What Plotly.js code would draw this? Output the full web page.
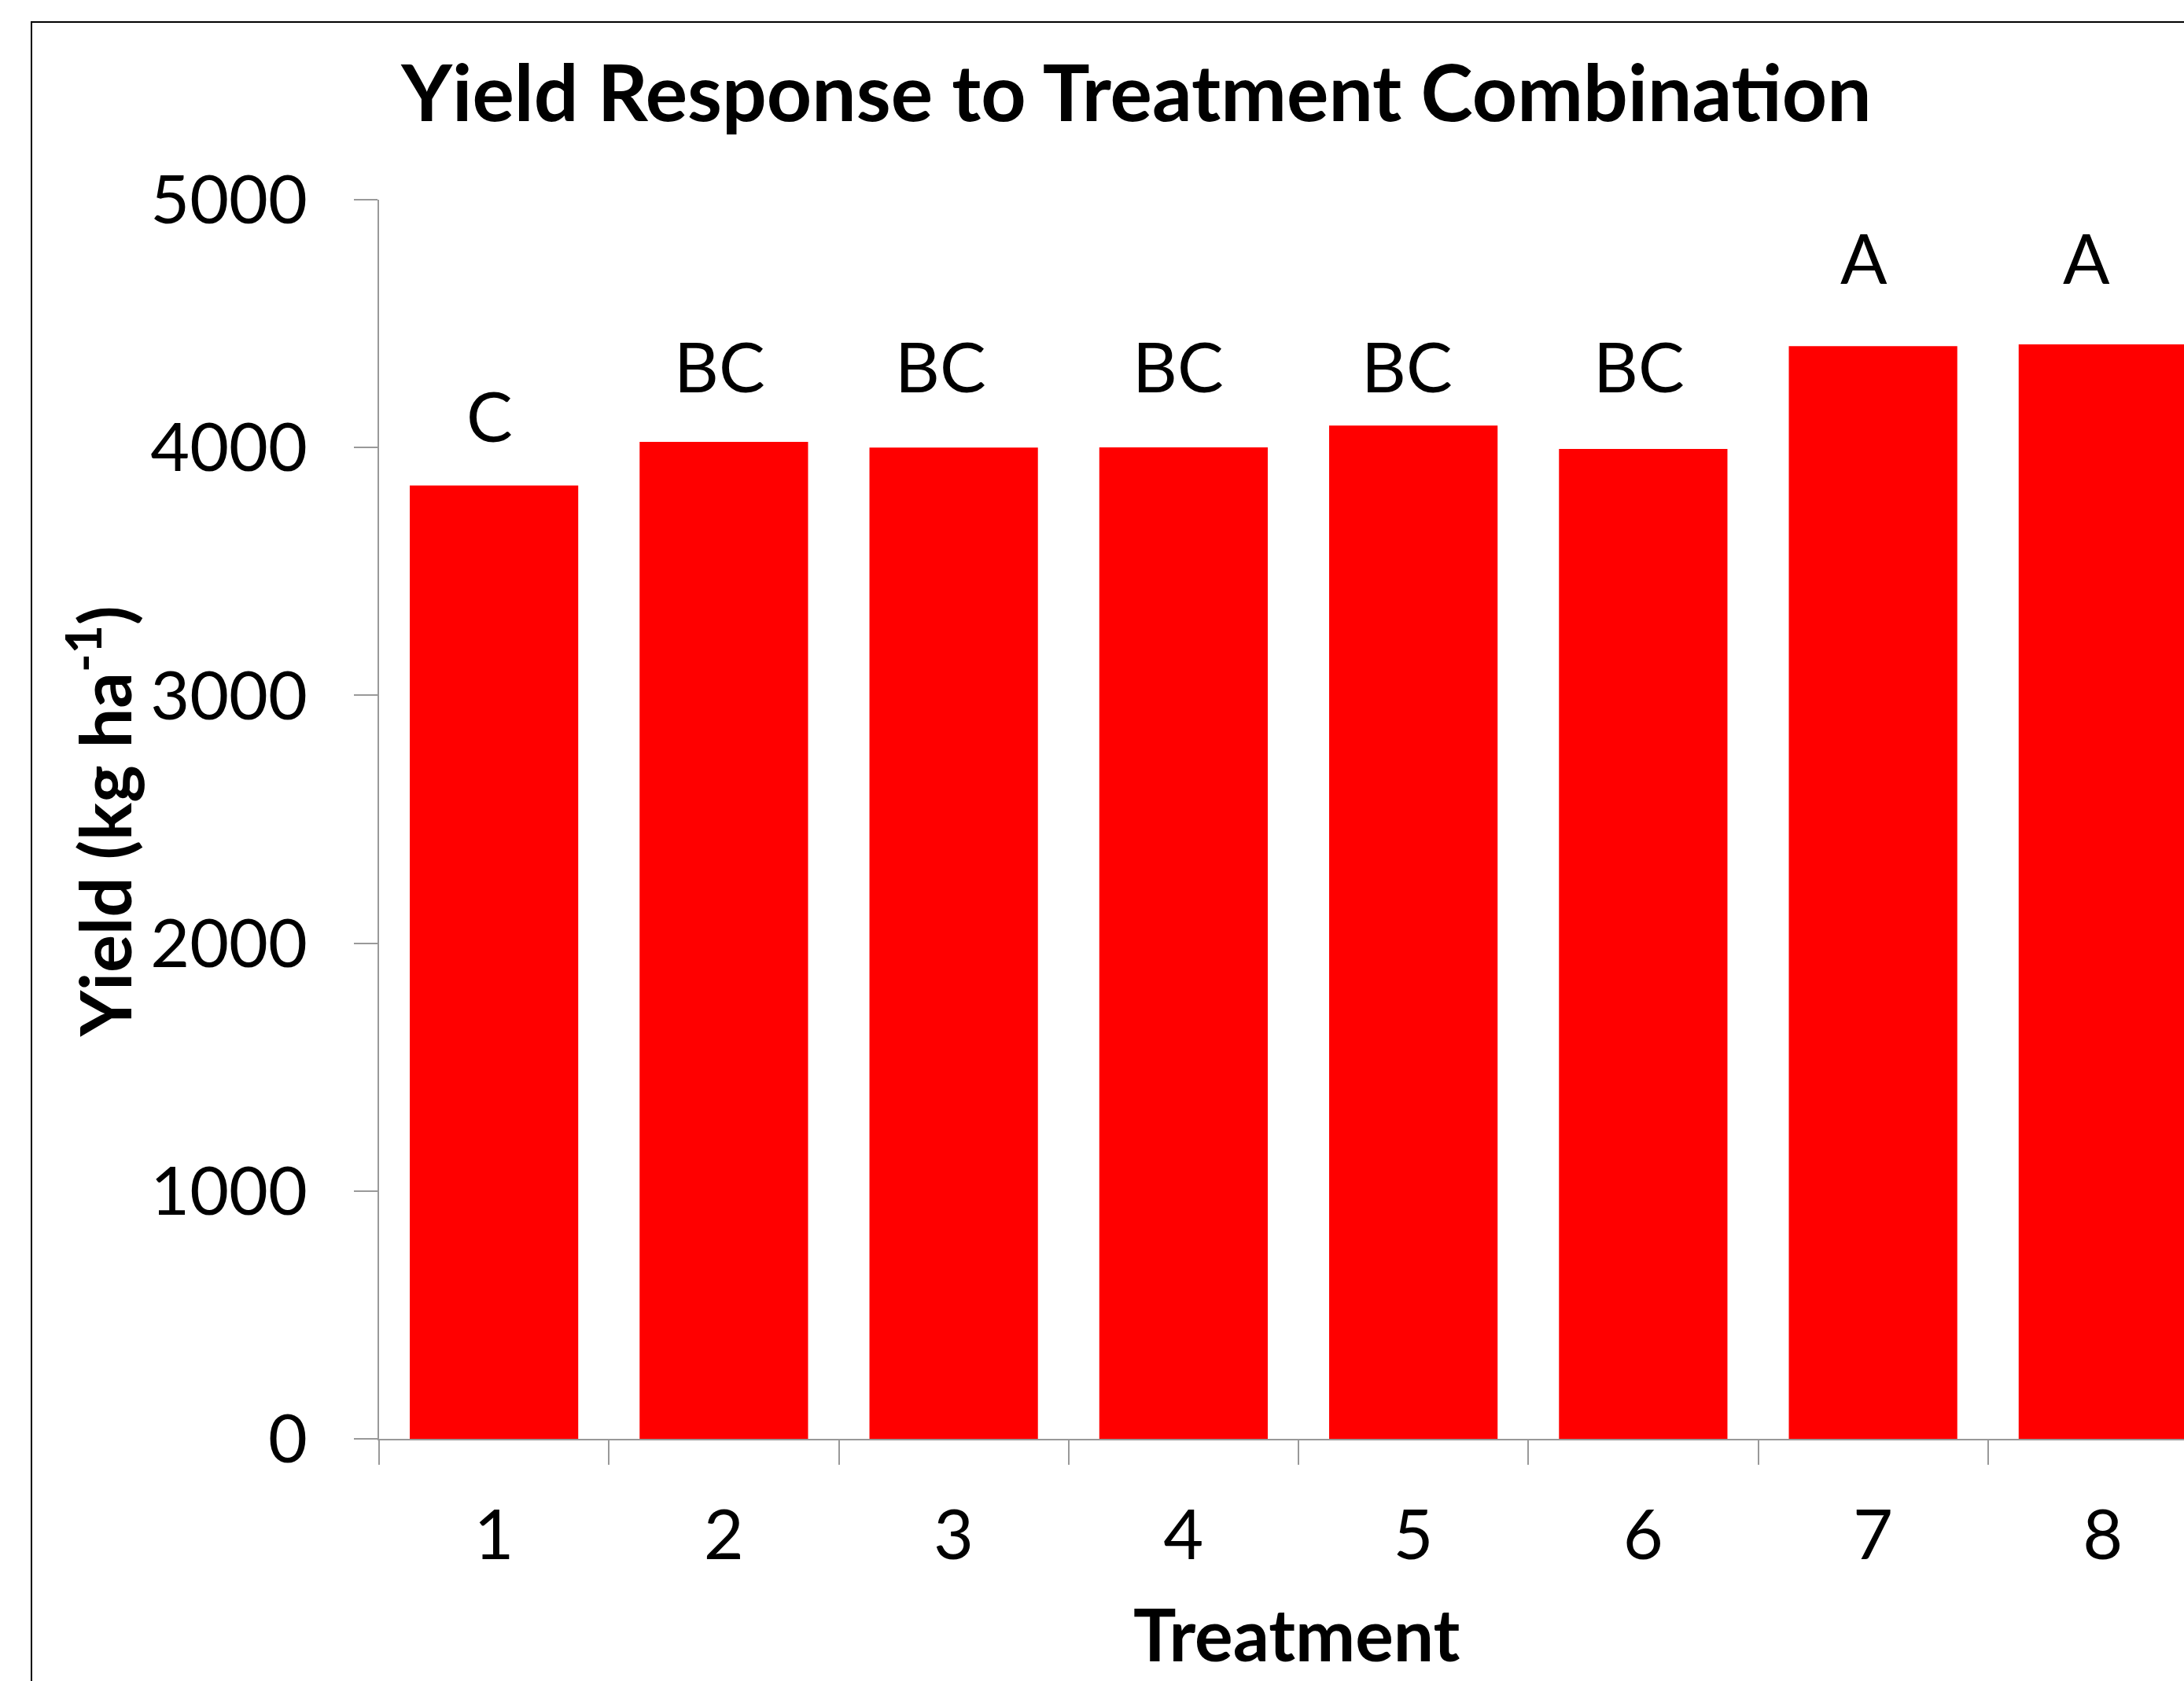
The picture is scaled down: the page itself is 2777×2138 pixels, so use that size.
<!DOCTYPE html>
<html>
<head>
<meta charset="utf-8">
<script src="https://cdn.plot.ly/plotly-3.0.1.min.js"></script>
<style>
  html, body { margin: 0; padding: 0; background: #fff; overflow: hidden; width: 2777px; height: 2138px; }
  #frame { position: absolute; left: 39px; top: 27px; border: 2px solid #000; background: #fff; }
</style>
</head>
<body>
<div id="frame"><div id="chart"></div></div>
<script>
// ---- data ----
const treatments = ['1', '2', '3', '4', '5', '6', '7', '8'];
const yieldKgHa = [3847, 4023, 4000, 4001, 4089, 3994, 4409, 4416];
const letters = ['C', 'BC', 'BC', 'BC', 'BC', 'BC', 'A', 'A'];
const letterY = [4130, 4330, 4330, 4330, 4330, 4330, 4770, 4770];
const yTicks = [0, 1000, 2000, 3000, 4000, 5000];

// ---- styling ----
const FONT = 'Lato, "Open Sans", sans-serif';
const W = 2808, H = 2200;
const letterNudgePx = [-6, -5, -17, -7, -8, -5, -12, -21];

const trace = {
  type: 'bar',
  x: treatments,
  y: yieldKgHa,
  marker: { color: '#FF0000', line: { width: 0 } },
  hoverinfo: 'x+y'
};

const annotations = treatments.map((t, i) => ({
  x: i, y: letterY[i], xref: 'x', yref: 'y',
  text: letters[i], showarrow: false,
  xanchor: 'center', yanchor: 'middle', xshift: letterNudgePx[i],
  font: { family: FONT, size: 88, color: '#000' }
}));

annotations.push({
  xref: 'paper', yref: 'paper', x: 0, y: 0.498, xshift: -356,
  text: 'Yield (kg ha<sup>-1</sup>)', textangle: -90, showarrow: false,
  xanchor: 'center', yanchor: 'middle',
  font: { family: FONT, size: 90, color: '#000', weight: 700 }
});
annotations.push({
  xref: 'paper', yref: 'paper', x: 0.4992, y: 0, yshift: -247,
  text: 'Treatment', showarrow: false,
  xanchor: 'center', yanchor: 'middle',
  font: { family: FONT, size: 91, color: '#000', weight: 700 }
});

const layout = {
  width: W, height: H,
  margin: { l: 441, r: 29, t: 225, b: 399, pad: 0 },
  paper_bgcolor: '#fff', plot_bgcolor: '#fff',
  showlegend: false,
  bargap: 0.267,
  title: {
    text: 'Yield Response to Treatment Combination',
    x: 0.5, xref: 'container', xanchor: 'center',
    y: 1 - 90 / H, yref: 'container', yanchor: 'middle',
    font: { family: FONT, size: 100, color: '#000', weight: 700 }
  },
  xaxis: {
    type: 'category',
    range: [-0.5, 7.5],
    showline: true, linecolor: '#999999', linewidth: 2,
    ticks: 'outside', tickson: 'boundaries', ticklen: 31, tickwidth: 2, tickcolor: '#999999',
    tickfont: { family: FONT, size: 88, color: '#000' },
    ticklabelstandoff: 45,
    showgrid: false, zeroline: false
  },
  yaxis: {
    range: [0, 5000],
    tickvals: yTicks,
    ticktext: yTicks.map(String),
    showline: true, linecolor: '#999999', linewidth: 2,
    ticks: 'outside', ticklen: 30, tickwidth: 2, tickcolor: '#999999',
    tickfont: { family: FONT, size: 86, color: '#000' },
    ticklabelstandoff: 42,
    showgrid: false, zeroline: false
  },
  annotations: annotations
};

Plotly.newPlot('chart', [trace], layout, { displayModeBar: false, staticPlot: true });
</script>
</body>
</html>
